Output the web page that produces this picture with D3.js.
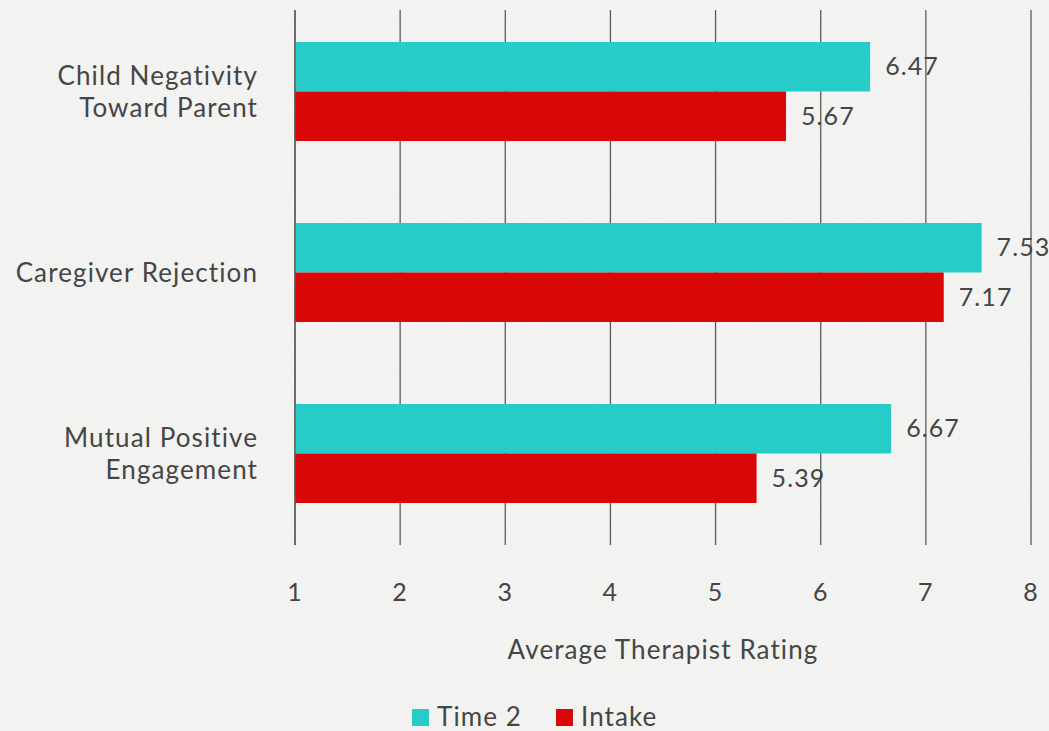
<!DOCTYPE html>
<html>
<head>
<meta charset="utf-8">
<script src="https://cdn.jsdelivr.net/npm/d3@7"></script>
<style>
  html, body { margin: 0; padding: 0; background: #f3f3f2; }
  svg { display: block; }
  text { font-family: Lato, "Open Sans", sans-serif; fill: #454545; letter-spacing: 1.1px; }
</style>
</head>
<body>
<div id="chart"></div>
<script>
const WIDTH = 1049; // page width
const HEIGHT = 731; // page height

// chart data
const categories = [["Child Negativity", "Toward Parent"], ["Caregiver Rejection"], ["Mutual Positive", "Engagement"]];
const seriesNames = ["Time 2", "Intake"];
const time2Values = [6.47, 7.53, 6.67];
const intakeValues = [5.67, 7.17, 5.39];
const tickValues = [1, 2, 3, 4, 5, 6, 7, 8];
const colors = ["#27ccc8", "#d90707"];

const rows = categories.map((c, i) => ({ key: i, label: c, values: [time2Values[i], intakeValues[i]] }));

const svg = d3.select("#chart")
  .append("svg")
  .attr("width", WIDTH)
  .attr("height", HEIGHT);

// paper-like texture for the background
const defs = svg.append("defs");
const filt = defs.append("filter").attr("id", "paper").attr("x", 0).attr("y", 0).attr("width", "100%").attr("height", "100%");
filt.append("feTurbulence").attr("type", "fractalNoise").attr("baseFrequency", 0.35).attr("numOctaves", 2).attr("seed", 4).attr("result", "noise");
filt.append("feColorMatrix").attr("type", "matrix")
  .attr("values", "0 0 0 0 0.6  0 0 0 0 0.6  0 0 0 0 0.6  0 0 0 0.09 0");
svg.append("rect").attr("width", WIDTH).attr("height", HEIGHT).attr("fill", "#f4f4f3");
svg.append("rect").attr("width", WIDTH).attr("height", HEIGHT).attr("filter", "url(#paper)");

const x = d3.scaleLinear().domain([1, 8]).range([295, 1031]);
const y = d3.scaleBand().domain(rows.map(d => d.key)).range([1, 544]).paddingInner(0.453).paddingOuter(0.2265);
const ySub = d3.scaleBand().domain([0, 1]).range([0, y.bandwidth()]);

// vertical gridlines
svg.append("g")
  .selectAll("line")
  .data(tickValues)
  .join("line")
  .attr("x1", d => x(d)).attr("x2", d => x(d))
  .attr("y1", 10).attr("y2", 545)
  .attr("stroke", "#5a5a5a")
  .attr("stroke-width", 1.3);

// bars
const groups = svg.append("g")
  .selectAll("g")
  .data(rows)
  .join("g")
  .attr("transform", d => `translate(0,${y(d.key)})`);

groups.selectAll("rect")
  .data(d => d.values.map((v, i) => ({ v, i })))
  .join("rect")
  .attr("x", x(1))
  .attr("y", d => ySub(d.i))
  .attr("width", d => x(d.v) - x(1))
  .attr("height", ySub.bandwidth())
  .attr("fill", d => colors[d.i]);

// first gridline drawn over bars (axis line)
svg.append("line")
  .attr("x1", x(1)).attr("x2", x(1)).attr("y1", 10).attr("y2", 545)
  .attr("stroke", "#5a5a5a").attr("stroke-width", 1.3);

// value labels
groups.selectAll("text.value")
  .data(d => d.values.map((v, i) => ({ v, i })))
  .join("text")
  .attr("class", "value")
  .attr("x", d => x(d.v) + 15)
  .attr("y", d => ySub(d.i) + ySub.bandwidth() / 2)
  .attr("dy", "0.35em")
  .attr("font-size", 25)
  .text(d => d3.format(".2f")(d.v));

// category labels
const catText = svg.append("g")
  .selectAll("text")
  .data(rows)
  .join("text")
  .attr("text-anchor", "end")
  .attr("font-size", 26)
  .attr("x", 258)
  .attr("y", d => y(d.key) + y.bandwidth() / 2 - (d.label.length - 1) * 16);

catText.selectAll("tspan")
  .data(d => d.label)
  .join("tspan")
  .attr("x", 258)
  .attr("dy", (d, i) => i === 0 ? "0.35em" : 32)
  .text(d => d);

// tick labels
svg.append("g")
  .selectAll("text")
  .data(tickValues)
  .join("text")
  .attr("x", d => x(d))
  .attr("y", 592)
  .attr("dy", "0.35em")
  .attr("text-anchor", "middle")
  .attr("font-size", 25)
  .text(d => d);

// axis title
svg.append("text")
  .attr("x", (x(1) + x(8)) / 2)
  .attr("y", 650)
  .attr("dy", "0.35em")
  .attr("text-anchor", "middle")
  .attr("font-size", 26)
  .text("Average Therapist Rating");

// legend
const legendX = [412, 556];
const legend = svg.append("g")
  .selectAll("g")
  .data(seriesNames)
  .join("g")
  .attr("transform", (d, i) => `translate(${legendX[i]},709)`);

legend.append("rect")
  .attr("width", 17).attr("height", 17)
  .attr("fill", (d, i) => colors[i]);

legend.append("text")
  .attr("x", 25)
  .attr("y", 9)
  .attr("dy", "0.3em")
  .attr("font-size", 26)
  .text(d => d);
</script>
</body>
</html>
